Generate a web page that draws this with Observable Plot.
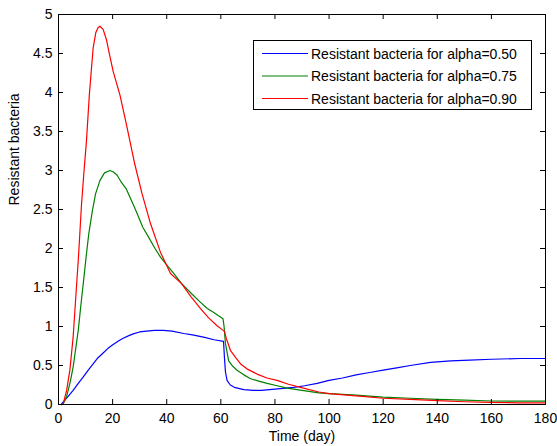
<!DOCTYPE html>
<html>
<head>
<meta charset="utf-8">
<script src="https://cdn.jsdelivr.net/npm/d3@7"></script>
<script src="https://cdn.jsdelivr.net/npm/@observablehq/plot@0.6"></script>
<style>
  html, body { margin: 0; padding: 0; background: #ffffff; }
  #chart { position: relative; width: 557px; height: 446px; }
</style>
</head>
<body>
<div id="chart"></div>
<script>
// ---- data ----
const seriesNames = [
  "Resistant bacteria for alpha=0.50",
  "Resistant bacteria for alpha=0.75",
  "Resistant bacteria for alpha=0.90"
];
const seriesColors = ["#0000ff", "#008000", "#ff0000"];

const tBlue = [1,1.7,3.5,5.4,7.3, 9.1,11,12.8,14.6,16.5, 18.3,20.2,22,23.9,25.8, 27.6,30,32.5,35.5,38.7, 42,46.3,50,54,57.5, 61,61.3,61.7,62.3,63.5, 65,68.5,72,75,78, 81,84,87,91,95.6, 100,105,110,115,120, 125,130,137.5,145,152, 160,170.7,180];
const vBlue = [0,0.03,0.1,0.18,0.27, 0.35,0.44,0.52,0.6,0.66, 0.72,0.77,0.81,0.85,0.88, 0.905,0.93,0.94,0.95,0.95, 0.94,0.91,0.89,0.86,0.83, 0.81,0.62,0.42,0.31,0.25, 0.22,0.19,0.18,0.18,0.19, 0.2,0.21,0.22,0.24,0.27, 0.31,0.34,0.38,0.41,0.44, 0.47,0.5,0.54,0.56,0.57, 0.58,0.59,0.59];

const tGreen = [1.6,3,4.4,5.4,7.3, 8.2,9.4,10.3,11.2,12.5, 13.7,15.3,17,19,20.3, 21.7,23.2,25.1,28.2,31.2, 33.4,35.5,37.7,40.2,42.6, 45.5,49.5,52.5,55,57.4, 59,60.8,61.2,61.7,62.9, 64.4,66,68.5,71,74, 77.1,80.8,84.5,90,96.2, 100,110,120,130,140, 150,160,170,180];
const vGreen = [0,0.1,0.3,0.48,0.95, 1.25,1.63,1.92,2.19,2.48, 2.7,2.87,2.97,3.0,2.98, 2.94,2.85,2.76,2.52,2.27, 2.14,2.01,1.89,1.78,1.68, 1.55,1.41,1.31,1.23,1.18, 1.14,1.1,1.0,0.78,0.56, 0.49,0.44,0.38,0.33,0.3, 0.27,0.24,0.21,0.18,0.15, 0.14,0.12,0.095,0.08,0.065, 0.055,0.045,0.044,0.043];

const tRed = [1.7,3,4.2,5.4,6.3, 7.4,8.5,9.4,10.3,11.4, 12.8,13.8,14.6,15.3,16.5, 17.7,18.9,20.2,22.7,25.1, 28.2,30.9,34,37.7,41.4, 45.5,49,52.5,55.5,58.6, 60.5,61.3,62,63.6,65.5, 67.3,70,73.4,77,80.8, 85,89.4,96.2,100,110, 120,130,140,150,160, 170,180];
const vRed = [0,0.18,0.44,0.86,1.33, 1.9,2.56,2.98,3.36,3.97, 4.57,4.77,4.83,4.85,4.81, 4.68,4.48,4.27,3.97,3.59, 3.08,2.7,2.32,1.95,1.68, 1.55,1.38,1.23,1.11,1.01, 0.96,0.94,0.85,0.69,0.6, 0.52,0.45,0.39,0.34,0.31, 0.26,0.22,0.16,0.14,0.11, 0.08,0.065,0.05,0.035,0.026, 0.022,0.02];

const xTicks = [0, 20, 40, 60, 80, 100, 120, 140, 160, 180];
const yTicks = [0, 0.5, 1, 1.5, 2, 2.5, 3, 3.5, 4, 4.5, 5];
const xLabel = "Time (day)";
const yLabel = "Resistant bacteria";

// ---- build table ----
const seriesT = [tBlue, tGreen, tRed];
const seriesV = [vBlue, vGreen, vRed];
const rows = seriesNames.flatMap((name, i) =>
  seriesT[i].map((t, j) => ({series: name, t, v: seriesV[i][j]}))
);

// ---- layout ----
const W = 557, H = 446;
const mL = 58, mR = 12, mT = 14, mB = 42;
const frameW = W - mL - mR, frameH = H - mT - mB;
const tickLen = 5;
const font = "Arial, 'Liberation Sans', Helvetica, sans-serif";

const chart = Plot.plot({
  width: W,
  height: H,
  marginLeft: mL,
  marginRight: mR,
  marginTop: mT,
  marginBottom: mB,
  style: {fontFamily: font, fontSize: "14px", background: "#ffffff", color: "#000000"},
  x: {domain: [0, 180]},
  y: {domain: [0, 5]},
  color: {domain: seriesNames, range: seriesColors},
  marks: [
    Plot.line(rows, {x: "t", y: "v", z: "series", stroke: "series", strokeWidth: 1.2, curve: "linear"}),
    // inward ticks on all four sides
    Plot.ruleX(xTicks, {x: d => d, insetTop: frameH - tickLen, stroke: "#000", strokeWidth: 1}),
    Plot.ruleX(xTicks, {x: d => d, insetBottom: frameH - tickLen, stroke: "#000", strokeWidth: 1}),
    Plot.ruleY(yTicks, {y: d => d, insetRight: frameW - tickLen, stroke: "#000", strokeWidth: 1}),
    Plot.ruleY(yTicks, {y: d => d, insetLeft: frameW - tickLen, stroke: "#000", strokeWidth: 1}),
    Plot.frame({stroke: "#000", strokeWidth: 1}),
    Plot.axisX({ticks: xTicks, tickSize: 0, tickPadding: 9, label: null, tickFormat: d => String(d)}),
    Plot.axisY({ticks: yTicks, tickSize: 0, tickPadding: 6, label: null, tickFormat: d => String(d)}),
    Plot.text([xLabel], {text: d => d, frameAnchor: "bottom", dy: 36, lineAnchor: "bottom", fontSize: 14}),
    Plot.text([yLabel], {text: d => d, frameAnchor: "left", rotate: -90, dx: -40, dy: -4, lineAnchor: "bottom", fontSize: 14})
  ]
});

document.getElementById("chart").appendChild(chart);

// ---- legend box (MATLAB style, inside the axes, top-right) ----
const svg = d3.select(chart);
const lg = svg.append("g")
  .attr("font-family", font)
  .attr("font-size", 14)
  .attr("text-anchor", "start");
const box = {x: 253.5, y: 40.5, w: 278, h: 69};
lg.append("rect")
  .attr("x", box.x).attr("y", box.y).attr("width", box.w).attr("height", box.h)
  .attr("fill", "#ffffff").attr("stroke", "#000000").attr("stroke-width", 1);
seriesNames.forEach((name, i) => {
  const cy = 53.5 + i * 22.5;
  lg.append("line")
    .attr("x1", 262).attr("x2", 308).attr("y1", cy).attr("y2", cy)
    .attr("stroke", seriesColors[i]).attr("stroke-width", 1.2);
  lg.append("text")
    .attr("x", 311).attr("y", cy + 5)
    .attr("text-anchor", "start")
    .attr("fill", "#000000")
    .text(name);
});
</script>
</body>
</html>
